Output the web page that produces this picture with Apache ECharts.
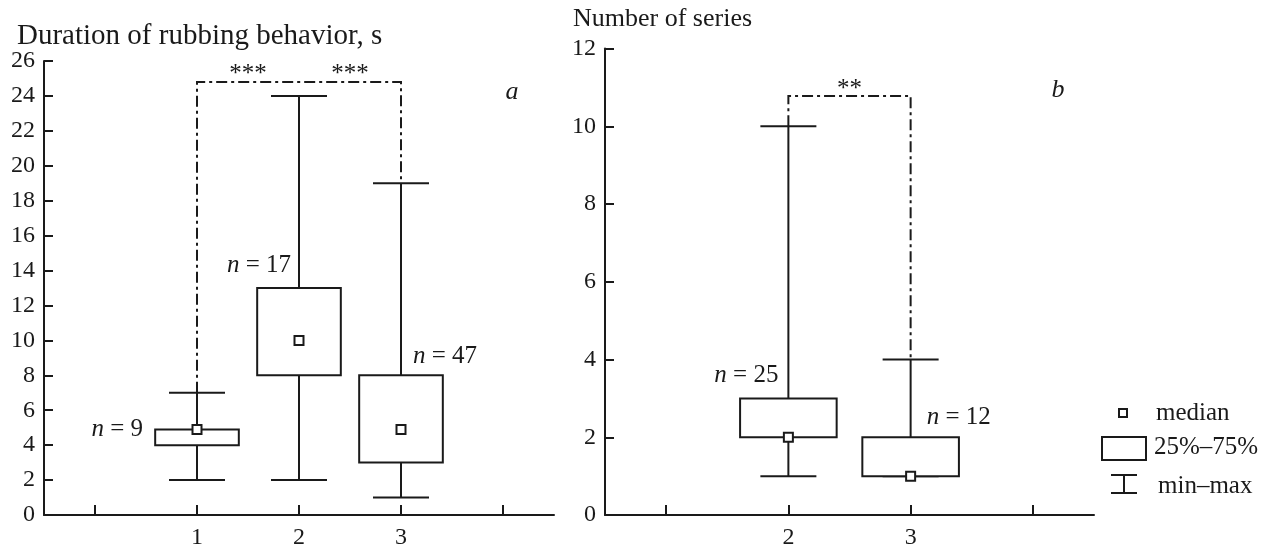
<!DOCTYPE html>
<html><head><meta charset="utf-8">
<script src="https://cdn.jsdelivr.net/npm/echarts@6/dist/echarts.min.js"></script>
<style>html,body{margin:0;padding:0;background:#fff}#c{width:1275px;height:550px}</style>
</head><body><div id="c"></div>
<script>
// ---------- Panel a: Duration of rubbing behavior, s ----------
const catsA = ['', '1', '2', '3', ' '];
const groupIdxA = [1, 2, 3];
const minA = [2, 2, 1];
const q1A  = [4, 8, 3];
const medA = [4.9, 10, 4.9];
const q3A  = [4.9, 13, 8];
const maxA = [7, 24, 19];
const nA   = [9, 17, 47];
const nLabelYA = [4.9, 14.3, 9.1];
const bracketA = [1, 3, 24.8, 7, 19];      // from idx, to idx, top, end at from, end at to
const sigPairsA = [[1, 2], [2, 3]];
const sigTextA = ['***', '***'];
const sigYA = 25.25;

// ---------- Panel b: Number of series ----------
const catsB = ['', '2', '3', ' '];
const groupIdxB = [1, 2];
const minB = [1, 1];
const q1B  = [2, 1];
const medB = [2, 1];
const q3B  = [3, 2];
const maxB = [10, 4];
const nB   = [25, 12];
const nLabelYB = [3.6, 2.5];
const bracketB = [1, 2, 10.78, 10, 4];
const sigPairsB = [[1, 2]];
const sigTextB = ['**'];
const sigYB = 10.95;

const FONT = "'Liberation Serif','Times New Roman',serif";
const INK = '#1a1a1a';

function boxRender(boxRatio) {
  return function (params, api) {
    const x = api.value(0);
    const pMin = api.coord([x, api.value(1)]);
    const pQ1 = api.coord([x, api.value(2)]);
    const pMed = api.coord([x, api.value(3)]);
    const pQ3 = api.coord([x, api.value(4)]);
    const pMax = api.coord([x, api.value(5)]);
    const band = api.size([1, 0])[0];
    const bw = band * boxRatio;
    const cap = 56;
    const cx = pMed[0];
    const ls = { stroke: INK, lineWidth: 2, fill: null };
    return {
      type: 'group',
      children: [
        { type: 'line', shape: { x1: cx, y1: pQ3[1], x2: cx, y2: pMax[1] }, style: ls },
        { type: 'line', shape: { x1: cx, y1: pQ1[1], x2: cx, y2: pMin[1] }, style: ls },
        { type: 'line', shape: { x1: cx - cap / 2, y1: pMax[1], x2: cx + cap / 2, y2: pMax[1] }, style: ls },
        { type: 'line', shape: { x1: cx - cap / 2, y1: pMin[1], x2: cx + cap / 2, y2: pMin[1] }, style: ls },
        { type: 'rect', shape: { x: cx - bw / 2, y: pQ3[1], width: bw, height: pQ1[1] - pQ3[1] },
          style: { stroke: INK, lineWidth: 2, fill: '#fff' } },
        { type: 'rect', shape: { x: cx - 4.5, y: pMed[1] - 4.5, width: 9, height: 9 },
          style: { stroke: INK, lineWidth: 2, fill: '#fff' } }
      ]
    };
  };
}

function bracketRender(params, api) {
  const a = api.value(0), b = api.value(1);
  const pTa = api.coord([a, api.value(2)]);
  const pTb = api.coord([b, api.value(2)]);
  const pEa = api.coord([a, api.value(3)]);
  const pEb = api.coord([b, api.value(4)]);
  return {
    type: 'polyline',
    shape: { points: [pEa, pTa, pTb, pEb] },
    style: { stroke: INK, lineWidth: 2, fill: null, lineDash: [11, 4, 3, 4] }
  };
}

function sigRender(texts) {
  return function (params, api) {
    const p1 = api.coord([api.value(0), api.value(2)]);
    const p2 = api.coord([api.value(1), api.value(2)]);
    return {
      type: 'text',
      x: (p1[0] + p2[0]) / 2, y: p1[1],
      style: { text: texts[params.dataIndex], font: '25px ' + FONT, fill: INK,
               textAlign: 'center', textVerticalAlign: 'middle' }
    };
  };
}

function nRender(ns, offsets) {
  return function (params, api) {
    const p = api.coord([api.value(0), api.value(1)]);
    const off = offsets[params.dataIndex];
    return {
      type: 'text',
      x: p[0] + off, y: p[1],
      style: {
        text: '{i|n} = ' + ns[params.dataIndex],
        rich: { i: { fontStyle: 'italic', fontFamily: FONT, fontSize: 25, fill: INK } },
        fontFamily: FONT, fontSize: 25, fill: INK,
        textAlign: off < 0 ? 'right' : 'left', textVerticalAlign: 'middle'
      }
    };
  };
}

const boxDataA = groupIdxA.map((g, i) => [g, minA[i], q1A[i], medA[i], q3A[i], maxA[i]]);
const boxDataB = groupIdxB.map((g, i) => [g, minB[i], q1B[i], medB[i], q3B[i], maxB[i]]);

function xAx(idx, cats) {
  return {
    type: 'category', gridIndex: idx, data: cats, boundaryGap: true,
    axisLine: { show: true, lineStyle: { color: INK, width: 2 } },
    axisTick: { show: true, inside: true, length: 10, alignWithLabel: true, interval: 0,
                lineStyle: { color: INK, width: 2 } },
    axisLabel: { color: INK, fontFamily: FONT, fontSize: 24, margin: 11, interval: 0 },
    splitLine: { show: false }
  };
}
function yAx(idx, max) {
  return {
    type: 'value', gridIndex: idx, min: 0, max: max, interval: 2,
    axisLine: { show: true, lineStyle: { color: INK, width: 2 } },
    axisTick: { show: true, inside: true, length: 9, lineStyle: { color: INK, width: 2 } },
    axisLabel: { color: INK, fontFamily: FONT, fontSize: 24, margin: 9 },
    splitLine: { show: false }
  };
}

const option = {
  backgroundColor: '#fff',
  animation: false,
  title: [
    { text: 'Duration of rubbing behavior, s', left: 12, top: 17,
      textStyle: { fontFamily: FONT, fontSize: 29, fontWeight: 'normal', color: INK } },
    { text: 'Number of series', left: 568, top: 1,
      textStyle: { fontFamily: FONT, fontSize: 26, fontWeight: 'normal', color: INK } }
  ],
  grid: [
    { left: 44, top: 61, width: 510, bottom: 33 },
    { left: 605, top: 48.5, width: 489, bottom: 33 }
  ],
  xAxis: [xAx(0, catsA), xAx(1, catsB)],
  yAxis: [yAx(0, 26), yAx(1, 12)],
  series: [
    { type: 'custom', xAxisIndex: 0, yAxisIndex: 0, renderItem: bracketRender, data: [bracketA], z: 1 },
    { type: 'custom', xAxisIndex: 0, yAxisIndex: 0, renderItem: boxRender(0.82), data: boxDataA, z: 2 },
    { type: 'custom', xAxisIndex: 0, yAxisIndex: 0, renderItem: sigRender(sigTextA),
      data: sigPairsA.map(p => [p[0], p[1], sigYA]), z: 3 },
    { type: 'custom', xAxisIndex: 0, yAxisIndex: 0, renderItem: nRender(nA, [-54, -8, 12]),
      data: groupIdxA.map((g, i) => [g, nLabelYA[i]]), z: 3 },

    { type: 'custom', xAxisIndex: 1, yAxisIndex: 1, renderItem: bracketRender, data: [bracketB], z: 1 },
    { type: 'custom', xAxisIndex: 1, yAxisIndex: 1, renderItem: boxRender(0.79), data: boxDataB, z: 2 },
    { type: 'custom', xAxisIndex: 1, yAxisIndex: 1, renderItem: sigRender(sigTextB),
      data: sigPairsB.map(p => [p[0], p[1], sigYB]), z: 3 },
    { type: 'custom', xAxisIndex: 1, yAxisIndex: 1, renderItem: nRender(nB, [-10, 16]),
      data: groupIdxB.map((g, i) => [g, nLabelYB[i]]), z: 3 }
  ],
  graphic: [
    { type: 'text', x: 512, y: 92, style: { text: 'a', font: 'italic 26px ' + FONT, fill: INK, textAlign: 'center', textVerticalAlign: 'middle' } },
    { type: 'text', x: 1058, y: 90, style: { text: 'b', font: 'italic 26px ' + FONT, fill: INK, textAlign: 'center', textVerticalAlign: 'middle' } },
    // legend
    { type: 'rect', shape: { x: 1119, y: 409, width: 8, height: 8 }, style: { stroke: INK, lineWidth: 2, fill: '#fff' } },
    { type: 'text', x: 1156, y: 413, style: { text: 'median', font: '25px ' + FONT, fill: INK, textVerticalAlign: 'middle' } },
    { type: 'rect', shape: { x: 1102, y: 437, width: 44, height: 23 }, style: { stroke: INK, lineWidth: 2, fill: '#fff' } },
    { type: 'text', x: 1154, y: 447, style: { text: '25%–75%', font: '25px ' + FONT, fill: INK, textVerticalAlign: 'middle' } },
    { type: 'line', shape: { x1: 1111, y1: 475, x2: 1137, y2: 475 }, style: { stroke: INK, lineWidth: 2 } },
    { type: 'line', shape: { x1: 1111, y1: 493, x2: 1137, y2: 493 }, style: { stroke: INK, lineWidth: 2 } },
    { type: 'line', shape: { x1: 1124, y1: 475, x2: 1124, y2: 493 }, style: { stroke: INK, lineWidth: 2 } },
    { type: 'text', x: 1158, y: 486, style: { text: 'min–max', font: '25px ' + FONT, fill: INK, textVerticalAlign: 'middle' } }
  ]
};

const chart = echarts.init(document.getElementById('c'));
chart.setOption(option);
</script>
</body></html>
